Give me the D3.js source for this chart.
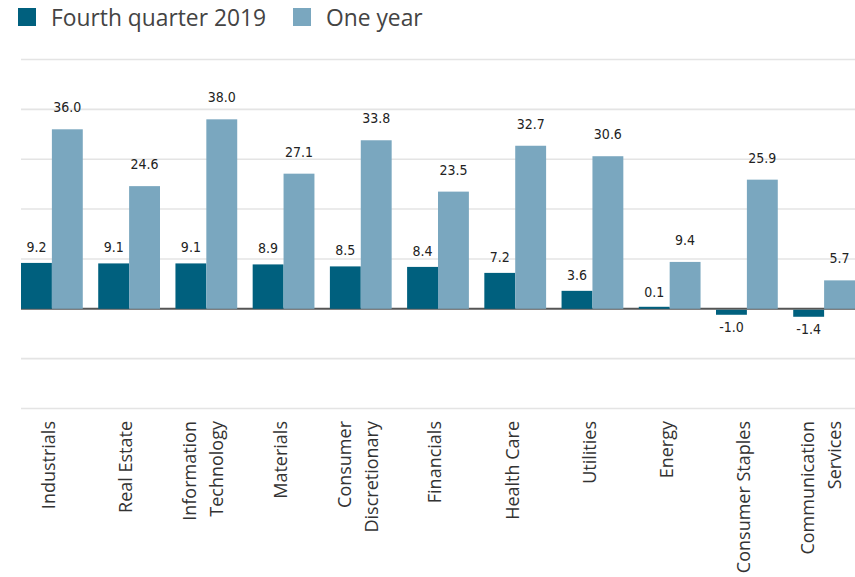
<!DOCTYPE html>
<html>
<head>
<meta charset="utf-8">
<script src="https://cdn.jsdelivr.net/npm/d3@7/dist/d3.min.js"></script>
<style>
  body { margin: 0; background: #fff; }
  svg { display: block; font-family: "Open Sans", sans-serif; }
  .legend text { font-size: 22.8px; fill: #444; }
  .cat text { font-size: 18px; fill: #333; }
  .val { font-family: "Liberation Sans Narrow", "DejaVu Sans Condensed", sans-serif; font-size: 14px; fill: #222; }
</style>
</head>
<body>
<div id="chart"></div>
<script>
  // sector returns, percent
  const categories = [
    ["Industrials"], ["Real Estate"], ["Information", "Technology"], ["Materials"],
    ["Consumer", "Discretionary"], ["Financials"], ["Health Care"], ["Utilities"],
    ["Energy"], ["Consumer Staples"], ["Communication", "Services"]
  ];
  const quarter = [9.2, 9.1, 9.1, 8.9, 8.5, 8.4, 7.2, 3.6, 0.1, -1.0, -1.4];
  const oneYear = [36.0, 24.6, 38.0, 27.1, 33.8, 23.5, 32.7, 30.6, 9.4, 25.9, 5.7];
  const seriesNames = ["Fourth quarter 2019", "One year"];
  const gridTicks = [-20, -10, 0, 10, 20, 30, 40, 50];

  const colors = ["#00607e", "#7aa7bf"];
  const width = 855, height = 577;

  const svg = d3.select("#chart").append("svg")
      .attr("width", width)
      .attr("height", height);

  const x = d3.scaleBand()
      .domain(d3.range(categories.length))
      .range([21, 855])
      .paddingInner(0.2)
      .paddingOuter(0);

  const x1 = d3.scaleBand()
      .domain([0, 1])
      .range([0, x.bandwidth()]);

  const y = d3.scaleLinear()
      .domain([-20, 50])
      .range([408.5, 59.5]);

  // grid
  svg.append("g")
    .selectAll("line")
    .data(gridTicks.filter(d => d !== 0))
    .join("line")
      .attr("x1", 21)
      .attr("x2", width)
      .attr("y1", d => y(d))
      .attr("y2", d => y(d))
      .attr("stroke", "#e4e4e4")
      .attr("stroke-width", 1.6);

  // zero line
  svg.append("line")
      .attr("x1", 21)
      .attr("x2", width)
      .attr("y1", y(0))
      .attr("y2", y(0))
      .attr("stroke", "#555")
      .attr("stroke-width", 2);

  const rows = categories.map((c, i) => ({ i, vals: [quarter[i], oneYear[i]] }));

  const groups = svg.append("g")
    .selectAll("g")
    .data(rows)
    .join("g")
      .attr("transform", d => `translate(${x(d.i)},0)`);

  groups.selectAll("rect")
    .data(d => d.vals.map((v, k) => ({ v, k })))
    .join("rect")
      .attr("x", d => x1(d.k))
      .attr("width", x1.bandwidth())
      .attr("y", d => d.v < 0 ? y(0) + 1 : Math.min(y(d.v), y(0) - 2))
      .attr("height", d => d.v < 0 ? y(d.v) - y(0) : Math.max(2, y(0) - y(d.v)))
      .attr("fill", d => colors[d.k]);

  groups.selectAll("text")
    .data(d => d.vals.map((v, k) => ({ v, k })))
    .join("text")
      .attr("class", "val")
      .attr("text-anchor", "middle")
      .attr("x", d => x1(d.k) + x1.bandwidth() / 2)
      .attr("y", d => d.v < 0 ? y(d.v) + 18 : y(d.v) - (d.k === 0 ? 11 : 17))
      .text(d => d.v.toFixed(1));

  // category labels
  const cat = svg.append("g").attr("class", "cat")
    .selectAll("text")
    .data(categories)
    .join("text")
      .attr("text-anchor", "end")
      .attr("transform", (d, i) => {
        const cx = x(i) + x.bandwidth() / 2 - 3 - (d.length - 1) * 13.5;
        return `translate(${cx},421) rotate(-90)`;
      });
  cat.selectAll("tspan")
    .data(d => d)
    .join("tspan")
      .attr("x", 0)
      .attr("dy", (d, j) => j === 0 ? "0.35em" : 27)
      .text(d => d);

  // legend
  const legend = svg.append("g").attr("class", "legend");
  const lx = [18, 293];
  seriesNames.forEach((name, k) => {
    legend.append("rect")
        .attr("x", lx[k])
        .attr("y", 8)
        .attr("width", 18)
        .attr("height", 18)
        .attr("fill", colors[k]);
    legend.append("text")
        .attr("x", lx[k] + 33)
        .attr("y", 26)
        .text(name);
  });
</script>
</body>
</html>
